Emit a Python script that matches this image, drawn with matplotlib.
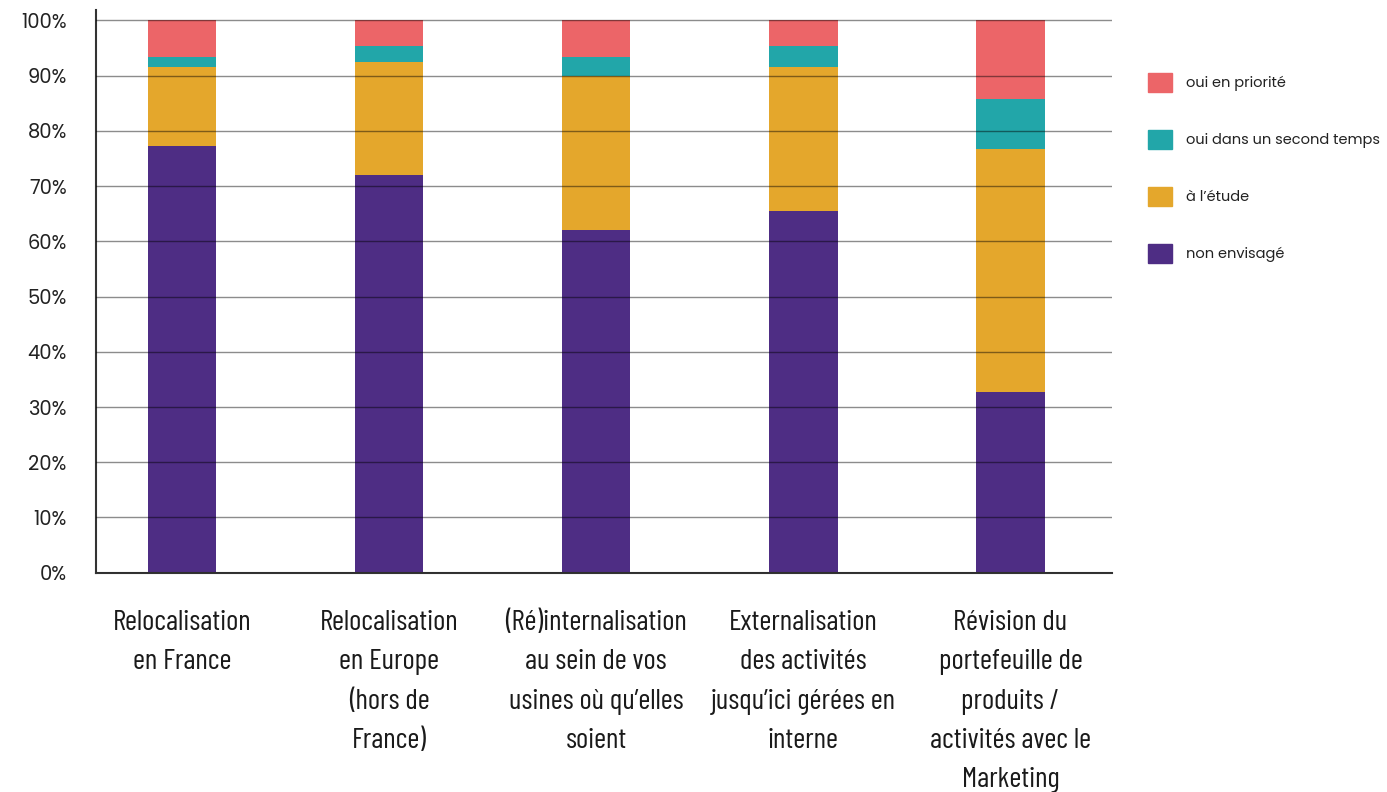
import numpy as np
import matplotlib.pyplot as plt
from matplotlib.patches import Patch

categories = ["Relocalisation\nen France",
              "Relocalisation\nen Europe\n(hors de\nFrance)",
              "(Ré)internalisation\nau sein de vos\nusines où qu’elles\nsoient",
              "Externalisation\ndes activités\njusqu’ici gérées en\ninterne",
              "Révision du\nportefeuille de\nproduits /\nactivités avec le\nMarketing"]
non_envisage = [77.2, 72.0, 62.0, 65.5, 32.7]
a_l_etude = [14.3, 20.4, 28.0, 26.0, 44.0]
second_temps = [1.9, 3.0, 3.4, 3.9, 9.1]
priorite = [6.6, 4.6, 6.6, 4.6, 14.2]

series = [("non envisagé", non_envisage, "#4e2d84"),
          ("à l’étude", a_l_etude, "#e4a72c"),
          ("oui dans un second temps", second_temps, "#22a6a9"),
          ("oui en priorité", priorite, "#ec6568")]

sans = ["Poppins", "Lato", "DejaVu Sans"]
narrow = ["Barlow Condensed", "Archivo Narrow", "DejaVu Sans"]

fig = plt.figure(figsize=(13.87, 7.92), dpi=100)
ax = fig.add_axes([0.0692, 0.2769, 0.7325, 0.7105])

x = np.arange(len(categories))
bottom = np.zeros(len(categories))
for name, vals, col in series:
    ax.bar(x, vals, 0.33, bottom=bottom, color=col, label=name, zorder=1)
    bottom += np.array(vals)

ax.set_xlim(-0.415, 4.49)
ax.set_ylim(0, 101.9)
ax.set_yticks(range(0, 101, 10))
ax.set_yticklabels([f"{v}%" for v in range(0, 101, 10)], fontsize=14,
                   color="#222222", family=sans)
ax.yaxis.grid(True, color="black", alpha=0.45, lw=1, zorder=3)
ax.set_axisbelow(False)
ax.tick_params(axis="y", length=0, pad=21)
ax.tick_params(axis="x", length=0, pad=27)
ax.set_xticks(x)
ax.set_xticklabels(categories, fontsize=21, color="#1a1a1a", linespacing=1.66,
                   family=narrow, va="top")
for s in ["top", "right"]:
    ax.spines[s].set_visible(False)
ax.spines["left"].set_color("#333333")
ax.spines["left"].set_linewidth(1.5)
ax.spines["bottom"].set_color("#333333")
ax.spines["bottom"].set_linewidth(1.5)

handles = [Patch(color=c, label=n) for n, v, c in series[::-1]]
fig.legend(handles=handles, loc="upper left", bbox_to_anchor=(0.818, 0.925),
           frameon=False, handlelength=1.65, handleheight=1.65,
           labelspacing=2.6, handletextpad=1.0,
           prop={"family": sans, "size": 10.5},
           labelcolor="#222222")

fig.savefig("out.png", dpi=100)
